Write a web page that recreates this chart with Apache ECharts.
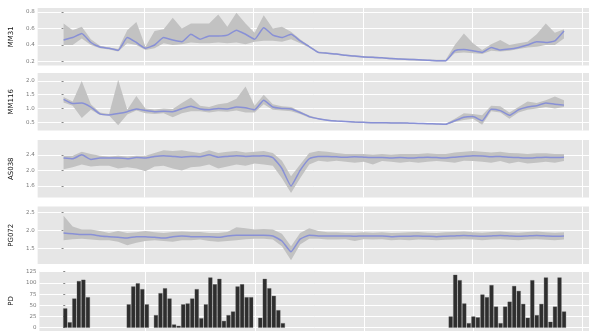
<!DOCTYPE html>
<html>
<head>
<meta charset="utf-8">
<script src="https://cdn.jsdelivr.net/npm/echarts@6/dist/echarts.min.js"></script>
<style>
  html, body { margin: 0; padding: 0; background: #fff; }
  #chart { width: 589px; height: 331px; }
</style>
</head>
<body>
<div id="chart"></div>
<script>
// sample positions (time index) for the smoothed lines and their bands
const lineX = [0,2,4,6,8,10,12,14,16,18,20,22,24,26,28,30,32,34,36,38,40,42,44,46,48,50,52,54,
  56,58,60,62,64,66,68,70,72,74,76,78,80,82,84,86,88,90,92,94,96,98,100,102,104,106,108,110];

const mm31Mean = [0.46,0.49,0.54,0.43,0.375,0.36,0.335,0.49,0.43,0.36,0.40,0.49,0.46,0.44,0.53,0.47,0.51,0.51,0.52,0.58,0.53,0.47,0.61,0.52,0.49,0.53,0.45,0.38,
  0.31,0.30,0.29,0.275,0.265,0.255,0.25,0.245,0.235,0.23,0.225,0.22,0.215,0.21,0.21,0.33,0.345,0.33,0.31,0.37,0.34,0.35,0.37,0.40,0.44,0.43,0.45,0.57];
const mm31Hi = [0.66,0.58,0.62,0.47,0.39,0.37,0.35,0.58,0.68,0.38,0.57,0.59,0.73,0.60,0.66,0.66,0.66,0.77,0.62,0.79,0.66,0.55,0.76,0.60,0.62,0.56,0.47,0.39,
  0.32,0.31,0.30,0.285,0.275,0.265,0.26,0.255,0.245,0.24,0.235,0.23,0.225,0.22,0.22,0.40,0.54,0.42,0.34,0.41,0.46,0.40,0.42,0.44,0.53,0.66,0.55,0.59];
const mm31Lo = [0.40,0.40,0.48,0.40,0.36,0.345,0.32,0.42,0.40,0.34,0.36,0.42,0.40,0.41,0.43,0.42,0.42,0.43,0.42,0.43,0.41,0.44,0.45,0.45,0.44,0.47,0.42,0.37,
  0.30,0.29,0.28,0.265,0.255,0.245,0.24,0.235,0.225,0.22,0.215,0.21,0.205,0.20,0.20,0.30,0.31,0.30,0.29,0.33,0.32,0.33,0.35,0.37,0.38,0.40,0.40,0.48];

const mm116Mean = [1.33,1.18,1.20,1.05,0.80,0.76,0.81,0.88,0.98,0.92,0.88,0.90,0.88,0.99,1.08,0.98,0.95,1.00,0.98,1.05,1.02,0.95,1.30,1.05,1.00,0.98,0.85,0.70,
  0.62,0.57,0.54,0.52,0.50,0.49,0.48,0.48,0.47,0.47,0.46,0.45,0.44,0.43,0.42,0.55,0.68,0.70,0.55,0.97,0.92,0.75,0.95,1.05,1.10,1.20,1.15,1.12];
const mm116Hi = [1.42,1.25,2.00,1.15,0.85,0.80,2.05,0.95,1.45,1.00,0.96,1.00,0.98,1.20,1.40,1.10,1.05,1.15,1.20,1.35,1.80,1.10,1.50,1.15,1.08,1.05,0.90,0.74,
  0.64,0.59,0.56,0.54,0.52,0.51,0.50,0.50,0.49,0.49,0.48,0.47,0.46,0.45,0.44,0.62,0.82,0.80,0.75,1.10,1.08,0.85,1.05,1.25,1.20,1.30,1.44,1.30];
const mm116Lo = [1.22,1.10,0.65,0.95,0.76,0.74,0.38,0.78,0.92,0.82,0.80,0.82,0.68,0.82,0.90,0.90,0.85,0.90,0.88,0.92,0.85,0.85,1.15,0.95,0.92,0.90,0.80,0.66,
  0.60,0.55,0.52,0.50,0.48,0.47,0.46,0.46,0.45,0.45,0.44,0.43,0.42,0.41,0.40,0.50,0.58,0.62,0.40,0.90,0.85,0.62,0.85,0.95,1.00,1.05,1.00,1.05];

const as038Mean = [2.32,2.30,2.40,2.28,2.32,2.32,2.32,2.30,2.33,2.32,2.36,2.38,2.36,2.34,2.36,2.35,2.40,2.34,2.36,2.38,2.36,2.37,2.38,2.33,2.05,1.60,2.00,2.30,
  2.36,2.36,2.35,2.34,2.35,2.34,2.33,2.33,2.32,2.33,2.32,2.33,2.34,2.33,2.32,2.34,2.36,2.38,2.37,2.35,2.36,2.34,2.33,2.32,2.33,2.34,2.33,2.34];
const as038Hi = [2.38,2.38,2.48,2.42,2.38,2.36,2.38,2.36,2.38,2.38,2.45,2.52,2.50,2.52,2.48,2.45,2.52,2.45,2.48,2.50,2.46,2.48,2.50,2.45,2.25,1.85,2.15,2.45,
  2.50,2.48,2.45,2.42,2.42,2.42,2.40,2.42,2.40,2.42,2.42,2.42,2.44,2.42,2.42,2.46,2.48,2.50,2.48,2.46,2.48,2.45,2.44,2.42,2.44,2.44,2.42,2.42];
const as038Lo = [2.03,2.08,2.15,2.10,2.12,2.12,2.05,2.08,2.05,1.98,2.10,2.12,2.05,2.00,2.08,2.10,2.15,2.05,2.10,2.15,2.12,2.18,2.15,2.12,1.80,1.42,1.80,2.15,
  2.25,2.22,2.25,2.22,2.20,2.22,2.15,2.24,2.22,2.20,2.22,2.20,2.22,2.24,2.22,2.20,2.25,2.24,2.22,2.20,2.24,2.18,2.22,2.18,2.20,2.22,2.20,2.24];

const pg072Mean = [1.92,1.90,1.88,1.88,1.84,1.82,1.80,1.78,1.82,1.82,1.80,1.78,1.82,1.84,1.82,1.82,1.82,1.80,1.84,1.86,1.86,1.86,1.86,1.84,1.70,1.40,1.75,1.86,
  1.84,1.84,1.84,1.84,1.83,1.84,1.84,1.84,1.82,1.83,1.83,1.84,1.83,1.82,1.83,1.84,1.85,1.84,1.83,1.84,1.85,1.84,1.83,1.84,1.85,1.84,1.83,1.84];
const pg072Hi = [2.40,2.10,2.02,2.02,1.98,1.92,1.98,1.92,1.94,1.98,1.94,1.92,1.95,1.96,1.95,1.95,1.92,1.92,1.95,2.08,2.05,2.02,2.03,2.02,1.90,1.55,1.92,2.05,
  1.98,1.94,1.94,1.93,1.93,1.94,1.93,1.94,1.92,1.93,1.94,1.95,1.93,1.92,1.94,1.95,1.96,1.94,1.93,1.95,1.96,1.94,1.93,1.95,1.96,1.94,1.93,1.94];
const pg072Lo = [1.72,1.75,1.76,1.74,1.72,1.72,1.68,1.58,1.65,1.70,1.72,1.70,1.68,1.72,1.72,1.74,1.70,1.68,1.70,1.72,1.75,1.76,1.76,1.74,1.55,1.16,1.60,1.76,
  1.76,1.74,1.74,1.75,1.70,1.75,1.74,1.75,1.72,1.73,1.72,1.74,1.73,1.72,1.73,1.74,1.75,1.74,1.72,1.74,1.75,1.73,1.72,1.74,1.75,1.73,1.72,1.74];

// PD bars: index positions and counts
const pdX = [0,1,2,3,4,5, 14,15,16,17,18, 20,21,22,23,24,25,26,27,28,29,30,
  31,32,33,34,35,36,37,38,39,40,41, 43,44,45,46,47,48,
  85,86,87,88,89,90,91,92,93,94,95,96,97,98,99,100,101,102,103,104,105,106,107,108,109,110];
const pdValues = [43,12,65,104,107,68, 52,92,99,86,52, 28,77,88,65,7,4,52,54,65,86,21,
  52,112,97,109,15,28,36,92,97,68,68, 22,109,88,71,39,10,
  25,118,106,54,10,25,23,74,68,95,47,10,47,58,93,82,53,22,106,28,53,112,13,47,112,36];

// axis setup
const xMin = -5.7, xMax = 115.5;
const xGrid = [17.7, 41.8, 65.9, 89.9, 114.0];

const panels = [
  { name: 'MM31',  mean: mm31Mean,  lo: mm31Lo,  hi: mm31Hi,  min: 0.151, max: 0.849, ticks: [0.2, 0.4, 0.6, 0.8], top: 8 },
  { name: 'MM116', mean: mm116Mean, lo: mm116Lo, hi: mm116Hi, min: 0.192, max: 2.295, ticks: [0.5, 1.0, 1.5, 2.0], top: 73 },
  { name: 'AS038', mean: as038Mean, lo: as038Lo, hi: as038Hi, min: 1.304, max: 2.782, ticks: [1.6, 2.0, 2.4], top: 140 },
  { name: 'PG072', mean: pg072Mean, lo: pg072Lo, hi: pg072Hi, min: 1.059, max: 2.658, ticks: [1.5, 2.0, 2.5], top: 206.5 },
  { name: 'PD', bars: pdValues, min: -7.4, max: 126.6, ticks: [0, 25, 50, 75, 100, 125], top: 271, height: 60 }
];

const PANEL_BG = '#E6E6E6';
const BAND = '#C2C2C2';
const LINE = '#8890D6';

const grid = [], xAxis = [], yAxis = [], series = [];

panels.forEach((p, gi) => {
  grid.push({
    left: 35, right: 0, top: p.top, height: p.height || 57.5,
    show: true, backgroundColor: PANEL_BG, borderWidth: 0
  });
  xAxis.push({
    type: 'value', gridIndex: gi, min: xMin, max: xMax,
    axisLine: { show: false },
    axisTick: { show: false, customValues: xGrid },
    axisLabel: { show: false, customValues: xGrid },
    splitLine: { show: true, lineStyle: { color: '#fff', width: 1 } }
  });
  yAxis.push({
    type: 'value', gridIndex: gi, min: p.min, max: p.max,
    name: p.name, nameLocation: 'middle', nameRotate: 90, nameGap: 21,
    nameTextStyle: { color: '#111', fontSize: 7, fontFamily: 'DejaVu Sans' },
    axisLine: { show: false },
    axisTick: { show: true, length: 2, customValues: p.ticks, lineStyle: { color: '#888' } },
    axisLabel: {
      customValues: p.ticks, color: '#7a7a7a', fontSize: 5.5, margin: 3,
      fontFamily: 'DejaVu Sans',
      formatter: v => p.bars ? String(Math.round(v)) : v.toFixed(1)
    },
    splitLine: { show: true, lineStyle: { color: '#fff', width: 1 } }
  });

  if (p.bars) {
    series.push({
      type: 'bar', xAxisIndex: gi, yAxisIndex: gi,
      data: pdX.map((x, i) => [x, p.bars[i]]),
      barWidth: 4,
      itemStyle: { color: '#2e2e2e', borderColor: '#555', borderWidth: 0.3 },
      silent: true
    });
  } else {
    // confidence band drawn as one polygon through the axis scales
    series.push({
      type: 'custom', xAxisIndex: gi, yAxisIndex: gi,
      data: lineX.map((x, i) => [x, p.lo[i], p.hi[i]]),
      encode: { x: 0, y: [1, 2] },
      renderItem: (params, api) => {
        if (params.dataIndex !== 0) return null;
        const pts = [];
        for (let i = 0; i < lineX.length; i++) pts.push(api.coord([lineX[i], p.hi[i]]));
        for (let i = lineX.length - 1; i >= 0; i--) pts.push(api.coord([lineX[i], p.lo[i]]));
        return { type: 'polygon', shape: { points: pts }, style: { fill: BAND } };
      },
      silent: true
    });
    series.push({
      type: 'line', xAxisIndex: gi, yAxisIndex: gi,
      data: lineX.map((x, i) => [x, p.mean[i]]),
      symbol: 'none', smooth: 0.15,
      lineStyle: { color: LINE, width: 1.5 }, silent: true, z: 3
    });
  }
});

const chart = echarts.init(document.getElementById('chart'), null, { renderer: 'canvas' });
chart.setOption({
  animation: false,
  backgroundColor: '#fff',
  grid, xAxis, yAxis, series
});
</script>
</body>
</html>
